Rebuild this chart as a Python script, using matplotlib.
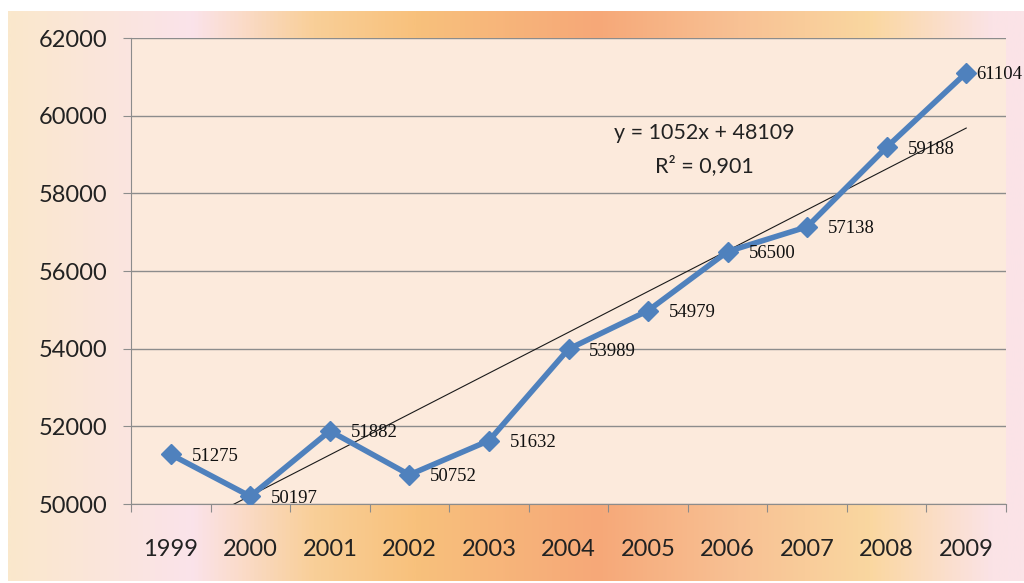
import numpy as np
import matplotlib
matplotlib.use("Agg")
import matplotlib.pyplot as plt
from matplotlib.colors import LinearSegmentedColormap

years = ["1999", "2000", "2001", "2002", "2003", "2004", "2005", "2006", "2007", "2008", "2009"]
values = [51275, 50197, 51882, 50752, 51632, 53989, 54979, 56500, 57138, 59188, 61104]
trend_slope = 1052
trend_intercept = 48109
r2_text = "0,901"
yticks = [50000, 52000, 54000, 56000, 58000, 60000, 62000]

W, H = 1024, 583
fig = plt.figure(figsize=(W / 100, H / 100), dpi=100)
fig.patch.set_facecolor("white")

# background gradient
bg = fig.add_axes([8 / W, 2 / H, (W - 8) / W, (H - 13) / H])
bg.set_axis_off()
stops = [(0.0, "#FAE8CC"), (0.18, "#FBE3EA"), (0.30, "#F9CF98"), (0.40, "#F8C17C"),
         (0.58, "#F6A878"), (0.72, "#F8C194"), (0.85, "#FAD7A0"), (0.97, "#FBE3E6"), (1.0, "#FBE4E8")]
cmap = LinearSegmentedColormap.from_list("bg", stops)
grad = np.linspace(0, 1, 512)[None, :]
bg.imshow(grad, aspect="auto", cmap=cmap, extent=[0, 1, 0, 1])

ax = fig.add_axes([131 / W, 79 / H, 875 / W, 466 / H])
ax.set_facecolor("#FCEADC")
x = np.arange(len(years))
ax.set_xlim(-0.5, len(years) - 0.5)
ax.set_ylim(50000, 62000)
ax.set_yticks(yticks)
ax.yaxis.grid(True, color="#8C8C8C", linewidth=1.0)
ax.set_axisbelow(True)
for s in ["top", "right"]:
    ax.spines[s].set_visible(False)
ax.spines["left"].set_color("#8C8C8C")
ax.spines["bottom"].set_color("#8C8C8C")

ax.set_xticks(np.arange(-0.5, len(years), 1.0))
ax.set_xticklabels([])
ax.set_xticks(x, minor=True)
ax.set_xticklabels(years, minor=True)
ax.tick_params(axis="x", which="major", direction="out", length=6, color="#8C8C8C")
ax.tick_params(axis="x", which="minor", length=0, pad=25, labelsize=17)
ax.tick_params(axis="y", direction="out", length=6, color="#8C8C8C", pad=11, labelsize=17)
for lab in ax.get_xticklabels(minor=True) + ax.get_yticklabels():
    lab.set_fontfamily("Lato")
    lab.set_color("#222222")

# trend line
tx = np.array([-1.0, len(years) - 1])
ty = trend_slope * (tx + 1) + trend_intercept
ax.plot(tx, ty, color="#1a1a1a", linewidth=0.8, zorder=2)

ax.plot(x, values, color="#4F81BD", linewidth=4, marker="D", markersize=10,
        markeredgecolor="#4F81BD", zorder=3)

for i, (xi, v) in enumerate(zip(x, values)):
    dx = 7 if i == len(values) - 1 else 15
    ax.annotate(str(v), (xi, v), xytext=(dx, -1.5), textcoords="offset points",
                ha="left", va="center", fontsize=13.5, family="Liberation Serif",
                color="#111111", annotation_clip=False, zorder=4)

ax.text(0.655, 0.797, f"y = {trend_slope}x + {trend_intercept}", transform=ax.transAxes,
        ha="center", va="center", fontsize=15.5, family="Lato", color="#222222")
ax.text(0.655, 0.727, f"R\u00b2 = {r2_text}", transform=ax.transAxes,
        ha="center", va="center", fontsize=15.5, family="Lato", color="#222222")

fig.savefig("out.png", dpi=100, facecolor=fig.get_facecolor())
